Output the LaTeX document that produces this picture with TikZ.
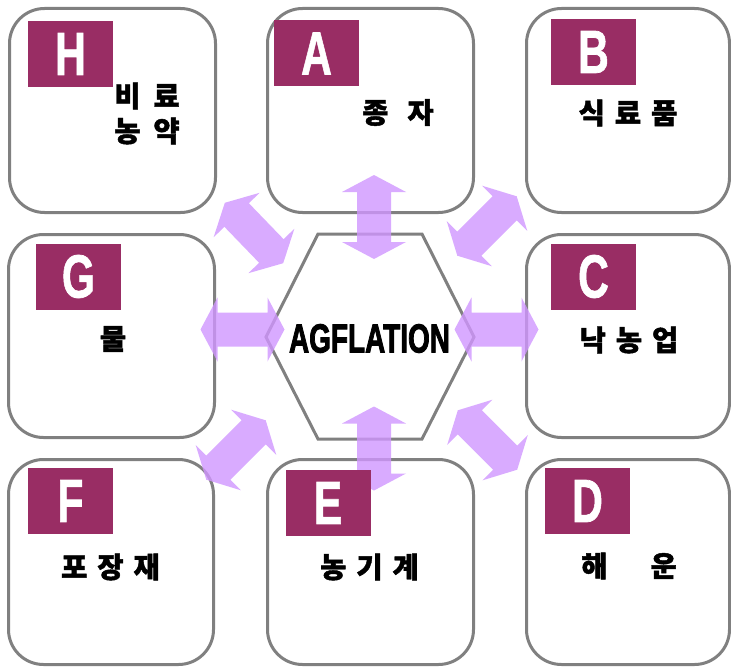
\documentclass[tikz,border=0pt]{standalone}
\usepackage{fontspec}
\usepackage{graphicx}
\newfontfamily\krfont{Noto Sans CJK KR}[BoldFeatures={FakeBold=1.5}]
\newfontfamily\latfont{Liberation Sans Bold}[FakeBold=1.2]
\newfontfamily\heavyfont{Liberation Sans Bold}[FakeBold=2.6]
\definecolor{boxgray}{RGB}{128,128,128}
\definecolor{tagred}{RGB}{153,45,100}
\definecolor{arrowpurple}{RGB}{208,150,255}
\tikzset{
  panel/.style={draw=boxgray, line width=3pt, rounded corners=35pt, fill=white, inner sep=0pt},
  tag/.style={fill=tagred, draw=none, inner sep=0pt, minimum width=85pt, minimum height=66pt,
              text=white, font=\latfont\fontsize{61}{61}\selectfont},
  krtext/.style={font=\krfont\bfseries\fontsize{28.5}{35}\selectfont, inner sep=0pt, align=center},
  fatarrow/.style={fill=arrowpurple, fill opacity=0.8, draw=none},
  hexline/.style={draw=boxgray, line width=3pt, line join=miter},
}
\newcommand\fatarr[3]{%
  \fill[fatarrow, shift={(#1,#2)}, rotate=#3]
    (-42,0) -- (-25,32) -- (-25,17) -- (25,17) -- (25,32) -- (42,0)
    -- (25,-32) -- (25,-17) -- (-25,-17) -- (-25,-32) -- cycle;}
\newcommand\tagl[1]{\scalebox{0.7}[1]{#1}}
\begin{document}
\begin{tikzpicture}[x=1pt, y=-1pt]
\useasboundingbox (0,0) rectangle (731,669);
% panels
\node[panel, minimum width=206pt, minimum height=204pt] (H) at (112.5,110.5) {};
\node[panel, minimum width=206pt, minimum height=204pt] (A) at (370.5,110.5) {};
\node[panel, minimum width=203pt, minimum height=204pt] (B) at (628,110.5) {};
\node[panel, minimum width=206pt, minimum height=203pt] (G) at (111.5,336) {};
\node[panel, minimum width=203pt, minimum height=203pt] (C) at (628,336) {};
\node[panel, minimum width=205pt, minimum height=205pt] (F) at (111,562) {};
\node[panel, minimum width=206pt, minimum height=205pt] (E) at (370.5,562) {};
\node[panel, minimum width=203pt, minimum height=205pt] (D) at (628,562) {};
% hexagon
\draw[hexline] (318,234) -- (422,234) -- (474,337) -- (422,439) -- (318,439) -- (266,337) -- cycle;
% arrows
\fatarr{374}{217}{90}
\fatarr{374}{448.5}{90}
\fatarr{242.5}{329.5}{0}
\fatarr{496.5}{329.5}{0}
\fatarr{254}{233}{-46}
\fatarr{487}{226}{45}
\fatarr{236}{450}{45}
\fatarr{487.5}{440}{-45}
% tags
\node[tag] (tH) at (70.5,54) {\tagl{H}};
\node[tag] (tA) at (316.5,53.5) {\tagl{A}};
\node[tag] (tB) at (593.5,52) {\tagl{B}};
\node[tag] (tG) at (78.5,276.5) {\tagl{G}};
\node[tag] (tC) at (593.5,276.5) {\tagl{C}};
\node[tag] (tF) at (70.5,501) {\tagl{F}};
\node[tag] (tE) at (328,503) {\tagl{E}};
\node[tag] (tD) at (587.5,501) {\tagl{D}};
% center text
\node[inner sep=0pt, font=\heavyfont\fontsize{40.5}{40.5}\selectfont] (ag) at (369.5,338.5) {\scalebox{0.69}[1]{AGFLATION}};
% labels
\node[krtext] (lH1) at (147,96) {비\hspace{13pt}료};
\node[krtext] (lH2) at (147,131) {농\hspace{13pt}약};
\node[krtext] (lA) at (398,112.5) {종\hspace{19pt}자};
\node[krtext] (lB) at (628,113) {식\hspace{10pt}료\hspace{10pt}품};
\node[krtext] (lG) at (113,339) {물};
\node[krtext] (lC) at (629,340) {낙\hspace{10pt}농\hspace{10pt}업};
\node[krtext] (lF) at (110.5,567) {포\hspace{10pt}장\hspace{10pt}재};
\node[krtext] (lE) at (369.5,567) {농\hspace{10pt}기\hspace{10pt}계};
\node[krtext] (lD) at (629,566) {해\hspace{43pt}운};
\end{tikzpicture}
\end{document}
